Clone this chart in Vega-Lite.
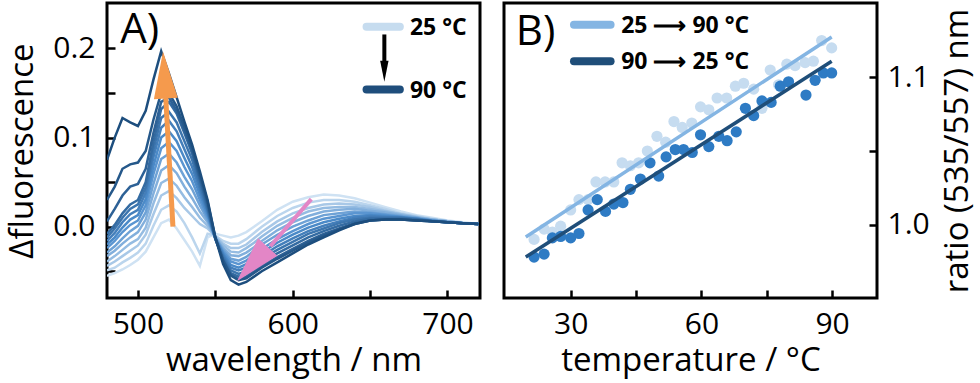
{
"$schema": "https://vega.github.io/schema/vega-lite/v6.json",
"padding": {"left": 5, "top": 1, "right": 0, "bottom": 0},
"spacing": 20,
"background": "white",
"config": {
  "font": "Open Sans",
  "view": {"stroke": "black", "strokeWidth": 3},
  "axis": {"domain": false, "grid": false, "tickColor": "black", "tickWidth": 2.5, "tickSize": -8,
           "labelFont": "Open Sans", "labelFontSize": 30, "labelColor": "black",
           "titleFont": "Open Sans", "titleFontSize": 33, "titleFontWeight": "normal", "titleColor": "black"}
},
"hconcat": [
{
  "width": 373, "height": 295,
  "layer": [
    {
      "data": {"values": [
{"t":25,"w":480,"v":-0.055},{"t":25,"w":485,"v":-0.052},{"t":25,"w":490,"v":-0.048},{"t":25,"w":495,"v":-0.043},{"t":25,"w":500,"v":-0.037},{"t":25,"w":505,"v":-0.028},{"t":25,"w":510,"v":-0.012},{"t":25,"w":515,"v":0.004},{"t":25,"w":520,"v":0.008},{"t":25,"w":525,"v":-0.002},{"t":25,"w":530,"v":-0.015},{"t":25,"w":535,"v":-0.028},{"t":25,"w":540,"v":-0.044},{"t":25,"w":545,"v":-0.012},{"t":25,"w":550,"v":-0.008},{"t":25,"w":555,"v":-0.010},{"t":25,"w":560,"v":-0.012},{"t":25,"w":565,"v":-0.010},{"t":25,"w":570,"v":-0.006},{"t":25,"w":575,"v":0.000},{"t":25,"w":580,"v":0.006},{"t":25,"w":590,"v":0.019},{"t":25,"w":600,"v":0.028},{"t":25,"w":610,"v":0.033},{"t":25,"w":620,"v":0.036},{"t":25,"w":630,"v":0.035},{"t":25,"w":640,"v":0.032},{"t":25,"w":650,"v":0.027},{"t":25,"w":660,"v":0.022},{"t":25,"w":670,"v":0.017},{"t":25,"w":680,"v":0.013},{"t":25,"w":690,"v":0.010},{"t":25,"w":700,"v":0.007},{"t":25,"w":710,"v":0.005},{"t":25,"w":720,"v":0.003},
{"t":30,"w":480,"v":-0.049},{"t":30,"w":485,"v":-0.046},{"t":30,"w":490,"v":-0.040},{"t":30,"w":495,"v":-0.035},{"t":30,"w":500,"v":-0.029},{"t":30,"w":505,"v":-0.019},{"t":30,"w":510,"v":0.001},{"t":30,"w":515,"v":0.019},{"t":30,"w":520,"v":0.024},{"t":30,"w":525,"v":0.017},{"t":30,"w":530,"v":0.004},{"t":30,"w":535,"v":-0.012},{"t":30,"w":540,"v":-0.030},{"t":30,"w":545,"v":-0.008},{"t":30,"w":550,"v":-0.010},{"t":30,"w":555,"v":-0.016},{"t":30,"w":560,"v":-0.019},{"t":30,"w":565,"v":-0.019},{"t":30,"w":570,"v":-0.014},{"t":30,"w":575,"v":-0.007},{"t":30,"w":580,"v":0.000},{"t":30,"w":590,"v":0.012},{"t":30,"w":600,"v":0.021},{"t":30,"w":610,"v":0.027},{"t":30,"w":620,"v":0.030},{"t":30,"w":630,"v":0.030},{"t":30,"w":640,"v":0.028},{"t":30,"w":650,"v":0.024},{"t":30,"w":660,"v":0.020},{"t":30,"w":670,"v":0.015},{"t":30,"w":680,"v":0.012},{"t":30,"w":690,"v":0.009},{"t":30,"w":700,"v":0.006},{"t":30,"w":710,"v":0.004},{"t":30,"w":720,"v":0.003},
{"t":35,"w":480,"v":-0.044},{"t":35,"w":485,"v":-0.039},{"t":35,"w":490,"v":-0.033},{"t":35,"w":495,"v":-0.027},{"t":35,"w":500,"v":-0.021},{"t":35,"w":505,"v":-0.009},{"t":35,"w":510,"v":0.014},{"t":35,"w":515,"v":0.035},{"t":35,"w":520,"v":0.040},{"t":35,"w":525,"v":0.032},{"t":35,"w":530,"v":0.021},{"t":35,"w":535,"v":0.012},{"t":35,"w":540,"v":0.003},{"t":35,"w":545,"v":-0.002},{"t":35,"w":550,"v":-0.011},{"t":35,"w":555,"v":-0.019},{"t":35,"w":560,"v":-0.024},{"t":35,"w":565,"v":-0.024},{"t":35,"w":570,"v":-0.020},{"t":35,"w":575,"v":-0.013},{"t":35,"w":580,"v":-0.006},{"t":35,"w":590,"v":0.006},{"t":35,"w":600,"v":0.015},{"t":35,"w":610,"v":0.021},{"t":35,"w":620,"v":0.025},{"t":35,"w":630,"v":0.026},{"t":35,"w":640,"v":0.025},{"t":35,"w":650,"v":0.022},{"t":35,"w":660,"v":0.018},{"t":35,"w":670,"v":0.014},{"t":35,"w":680,"v":0.011},{"t":35,"w":690,"v":0.008},{"t":35,"w":700,"v":0.006},{"t":35,"w":710,"v":0.004},{"t":35,"w":720,"v":0.003},
{"t":40,"w":480,"v":-0.039},{"t":40,"w":485,"v":-0.033},{"t":40,"w":490,"v":-0.026},{"t":40,"w":495,"v":-0.019},{"t":40,"w":500,"v":-0.014},{"t":40,"w":505,"v":-0.001},{"t":40,"w":510,"v":0.026},{"t":40,"w":515,"v":0.049},{"t":40,"w":520,"v":0.054},{"t":40,"w":525,"v":0.046},{"t":40,"w":530,"v":0.033},{"t":40,"w":535,"v":0.022},{"t":40,"w":540,"v":0.010},{"t":40,"w":545,"v":0.001},{"t":40,"w":550,"v":-0.011},{"t":40,"w":555,"v":-0.021},{"t":40,"w":560,"v":-0.028},{"t":40,"w":565,"v":-0.029},{"t":40,"w":570,"v":-0.024},{"t":40,"w":575,"v":-0.018},{"t":40,"w":580,"v":-0.011},{"t":40,"w":590,"v":0.001},{"t":40,"w":600,"v":0.010},{"t":40,"w":610,"v":0.017},{"t":40,"w":620,"v":0.021},{"t":40,"w":630,"v":0.022},{"t":40,"w":640,"v":0.022},{"t":40,"w":650,"v":0.020},{"t":40,"w":660,"v":0.017},{"t":40,"w":670,"v":0.014},{"t":40,"w":680,"v":0.011},{"t":40,"w":690,"v":0.008},{"t":40,"w":700,"v":0.006},{"t":40,"w":710,"v":0.004},{"t":40,"w":720,"v":0.003},
{"t":45,"w":480,"v":-0.033},{"t":45,"w":485,"v":-0.027},{"t":45,"w":490,"v":-0.019},{"t":45,"w":495,"v":-0.012},{"t":45,"w":500,"v":-0.006},{"t":45,"w":505,"v":0.008},{"t":45,"w":510,"v":0.037},{"t":45,"w":515,"v":0.063},{"t":45,"w":520,"v":0.069},{"t":45,"w":525,"v":0.060},{"t":45,"w":530,"v":0.045},{"t":45,"w":535,"v":0.032},{"t":45,"w":540,"v":0.017},{"t":45,"w":545,"v":0.005},{"t":45,"w":550,"v":-0.012},{"t":45,"w":555,"v":-0.024},{"t":45,"w":560,"v":-0.032},{"t":45,"w":565,"v":-0.033},{"t":45,"w":570,"v":-0.029},{"t":45,"w":575,"v":-0.023},{"t":45,"w":580,"v":-0.016},{"t":45,"w":590,"v":-0.004},{"t":45,"w":600,"v":0.005},{"t":45,"w":610,"v":0.012},{"t":45,"w":620,"v":0.017},{"t":45,"w":630,"v":0.019},{"t":45,"w":640,"v":0.020},{"t":45,"w":650,"v":0.018},{"t":45,"w":660,"v":0.016},{"t":45,"w":670,"v":0.013},{"t":45,"w":680,"v":0.010},{"t":45,"w":690,"v":0.008},{"t":45,"w":700,"v":0.006},{"t":45,"w":710,"v":0.004},{"t":45,"w":720,"v":0.003},
{"t":50,"w":480,"v":-0.029},{"t":50,"w":485,"v":-0.022},{"t":50,"w":490,"v":-0.013},{"t":50,"w":495,"v":-0.005},{"t":50,"w":500,"v":0.001},{"t":50,"w":505,"v":0.016},{"t":50,"w":510,"v":0.048},{"t":50,"w":515,"v":0.076},{"t":50,"w":520,"v":0.082},{"t":50,"w":525,"v":0.072},{"t":50,"w":530,"v":0.056},{"t":50,"w":535,"v":0.042},{"t":50,"w":540,"v":0.024},{"t":50,"w":545,"v":0.008},{"t":50,"w":550,"v":-0.012},{"t":50,"w":555,"v":-0.026},{"t":50,"w":560,"v":-0.036},{"t":50,"w":565,"v":-0.038},{"t":50,"w":570,"v":-0.034},{"t":50,"w":575,"v":-0.027},{"t":50,"w":580,"v":-0.020},{"t":50,"w":590,"v":-0.009},{"t":50,"w":600,"v":0.000},{"t":50,"w":610,"v":0.007},{"t":50,"w":620,"v":0.013},{"t":50,"w":630,"v":0.015},{"t":50,"w":640,"v":0.017},{"t":50,"w":650,"v":0.016},{"t":50,"w":660,"v":0.014},{"t":50,"w":670,"v":0.012},{"t":50,"w":680,"v":0.010},{"t":50,"w":690,"v":0.007},{"t":50,"w":700,"v":0.005},{"t":50,"w":710,"v":0.004},{"t":50,"w":720,"v":0.003},
{"t":55,"w":480,"v":-0.024},{"t":55,"w":485,"v":-0.016},{"t":55,"w":490,"v":-0.006},{"t":55,"w":495,"v":0.002},{"t":55,"w":500,"v":0.007},{"t":55,"w":505,"v":0.024},{"t":55,"w":510,"v":0.059},{"t":55,"w":515,"v":0.088},{"t":55,"w":520,"v":0.095},{"t":55,"w":525,"v":0.085},{"t":55,"w":530,"v":0.067},{"t":55,"w":535,"v":0.051},{"t":55,"w":540,"v":0.030},{"t":55,"w":545,"v":0.011},{"t":55,"w":550,"v":-0.013},{"t":55,"w":555,"v":-0.028},{"t":55,"w":560,"v":-0.039},{"t":55,"w":565,"v":-0.042},{"t":55,"w":570,"v":-0.038},{"t":55,"w":575,"v":-0.032},{"t":55,"w":580,"v":-0.025},{"t":55,"w":590,"v":-0.014},{"t":55,"w":600,"v":-0.005},{"t":55,"w":610,"v":0.003},{"t":55,"w":620,"v":0.009},{"t":55,"w":630,"v":0.012},{"t":55,"w":640,"v":0.015},{"t":55,"w":650,"v":0.015},{"t":55,"w":660,"v":0.013},{"t":55,"w":670,"v":0.011},{"t":55,"w":680,"v":0.009},{"t":55,"w":690,"v":0.007},{"t":55,"w":700,"v":0.005},{"t":55,"w":710,"v":0.004},{"t":55,"w":720,"v":0.003},
{"t":60,"w":480,"v":-0.020},{"t":60,"w":485,"v":-0.012},{"t":60,"w":490,"v":-0.001},{"t":60,"w":495,"v":0.008},{"t":60,"w":500,"v":0.013},{"t":60,"w":505,"v":0.031},{"t":60,"w":510,"v":0.068},{"t":60,"w":515,"v":0.100},{"t":60,"w":520,"v":0.107},{"t":60,"w":525,"v":0.096},{"t":60,"w":530,"v":0.077},{"t":60,"w":535,"v":0.059},{"t":60,"w":540,"v":0.036},{"t":60,"w":545,"v":0.014},{"t":60,"w":550,"v":-0.013},{"t":60,"w":555,"v":-0.030},{"t":60,"w":560,"v":-0.043},{"t":60,"w":565,"v":-0.046},{"t":60,"w":570,"v":-0.042},{"t":60,"w":575,"v":-0.036},{"t":60,"w":580,"v":-0.029},{"t":60,"w":590,"v":-0.018},{"t":60,"w":600,"v":-0.009},{"t":60,"w":610,"v":-0.001},{"t":60,"w":620,"v":0.005},{"t":60,"w":630,"v":0.009},{"t":60,"w":640,"v":0.012},{"t":60,"w":650,"v":0.013},{"t":60,"w":660,"v":0.012},{"t":60,"w":670,"v":0.011},{"t":60,"w":680,"v":0.009},{"t":60,"w":690,"v":0.007},{"t":60,"w":700,"v":0.005},{"t":60,"w":710,"v":0.004},{"t":60,"w":720,"v":0.003},
{"t":65,"w":480,"v":-0.016},{"t":65,"w":485,"v":-0.007},{"t":65,"w":490,"v":0.005},{"t":65,"w":495,"v":0.014},{"t":65,"w":500,"v":0.019},{"t":65,"w":505,"v":0.038},{"t":65,"w":510,"v":0.078},{"t":65,"w":515,"v":0.111},{"t":65,"w":520,"v":0.119},{"t":65,"w":525,"v":0.107},{"t":65,"w":530,"v":0.087},{"t":65,"w":535,"v":0.067},{"t":65,"w":540,"v":0.042},{"t":65,"w":545,"v":0.017},{"t":65,"w":550,"v":-0.013},{"t":65,"w":555,"v":-0.032},{"t":65,"w":560,"v":-0.046},{"t":65,"w":565,"v":-0.049},{"t":65,"w":570,"v":-0.046},{"t":65,"w":575,"v":-0.040},{"t":65,"w":580,"v":-0.033},{"t":65,"w":590,"v":-0.022},{"t":65,"w":600,"v":-0.013},{"t":65,"w":610,"v":-0.005},{"t":65,"w":620,"v":0.001},{"t":65,"w":630,"v":0.006},{"t":65,"w":640,"v":0.010},{"t":65,"w":650,"v":0.012},{"t":65,"w":660,"v":0.011},{"t":65,"w":670,"v":0.010},{"t":65,"w":680,"v":0.009},{"t":65,"w":690,"v":0.006},{"t":65,"w":700,"v":0.005},{"t":65,"w":710,"v":0.004},{"t":65,"w":720,"v":0.003},
{"t":70,"w":480,"v":-0.012},{"t":70,"w":485,"v":-0.002},{"t":70,"w":490,"v":0.010},{"t":70,"w":495,"v":0.020},{"t":70,"w":500,"v":0.025},{"t":70,"w":505,"v":0.044},{"t":70,"w":510,"v":0.086},{"t":70,"w":515,"v":0.122},{"t":70,"w":520,"v":0.129},{"t":70,"w":525,"v":0.117},{"t":70,"w":530,"v":0.096},{"t":70,"w":535,"v":0.075},{"t":70,"w":540,"v":0.047},{"t":70,"w":545,"v":0.019},{"t":70,"w":550,"v":-0.014},{"t":70,"w":555,"v":-0.034},{"t":70,"w":560,"v":-0.049},{"t":70,"w":565,"v":-0.053},{"t":70,"w":570,"v":-0.050},{"t":70,"w":575,"v":-0.043},{"t":70,"w":580,"v":-0.036},{"t":70,"w":590,"v":-0.026},{"t":70,"w":600,"v":-0.017},{"t":70,"w":610,"v":-0.008},{"t":70,"w":620,"v":-0.002},{"t":70,"w":630,"v":0.004},{"t":70,"w":640,"v":0.008},{"t":70,"w":650,"v":0.010},{"t":70,"w":660,"v":0.010},{"t":70,"w":670,"v":0.010},{"t":70,"w":680,"v":0.008},{"t":70,"w":690,"v":0.006},{"t":70,"w":700,"v":0.005},{"t":70,"w":710,"v":0.004},{"t":70,"w":720,"v":0.003},
{"t":75,"w":480,"v":-0.008},{"t":75,"w":485,"v":0.002},{"t":75,"w":490,"v":0.015},{"t":75,"w":495,"v":0.025},{"t":75,"w":500,"v":0.030},{"t":75,"w":505,"v":0.050},{"t":75,"w":510,"v":0.095},{"t":75,"w":515,"v":0.132},{"t":75,"w":520,"v":0.140},{"t":75,"w":525,"v":0.127},{"t":75,"w":530,"v":0.105},{"t":75,"w":535,"v":0.082},{"t":75,"w":540,"v":0.052},{"t":75,"w":545,"v":0.022},{"t":75,"w":550,"v":-0.014},{"t":75,"w":555,"v":-0.036},{"t":75,"w":560,"v":-0.052},{"t":75,"w":565,"v":-0.056},{"t":75,"w":570,"v":-0.053},{"t":75,"w":575,"v":-0.047},{"t":75,"w":580,"v":-0.040},{"t":75,"w":590,"v":-0.030},{"t":75,"w":600,"v":-0.021},{"t":75,"w":610,"v":-0.012},{"t":75,"w":620,"v":-0.005},{"t":75,"w":630,"v":0.001},{"t":75,"w":640,"v":0.006},{"t":75,"w":650,"v":0.009},{"t":75,"w":660,"v":0.009},{"t":75,"w":670,"v":0.009},{"t":75,"w":680,"v":0.008},{"t":75,"w":690,"v":0.006},{"t":75,"w":700,"v":0.005},{"t":75,"w":710,"v":0.004},{"t":75,"w":720,"v":0.003},
{"t":80,"w":480,"v":0.006},{"t":80,"w":485,"v":0.020},{"t":80,"w":490,"v":0.035},{"t":80,"w":495,"v":0.045},{"t":80,"w":500,"v":0.048},{"t":80,"w":505,"v":0.065},{"t":80,"w":510,"v":0.105},{"t":80,"w":515,"v":0.140},{"t":80,"w":520,"v":0.145},{"t":80,"w":525,"v":0.130},{"t":80,"w":530,"v":0.108},{"t":80,"w":535,"v":0.085},{"t":80,"w":540,"v":0.055},{"t":80,"w":545,"v":0.025},{"t":80,"w":550,"v":-0.013},{"t":80,"w":555,"v":-0.038},{"t":80,"w":560,"v":-0.054},{"t":80,"w":565,"v":-0.059},{"t":80,"w":570,"v":-0.056},{"t":80,"w":575,"v":-0.050},{"t":80,"w":580,"v":-0.044},{"t":80,"w":590,"v":-0.034},{"t":80,"w":600,"v":-0.025},{"t":80,"w":610,"v":-0.016},{"t":80,"w":620,"v":-0.008},{"t":80,"w":630,"v":-0.002},{"t":80,"w":640,"v":0.004},{"t":80,"w":650,"v":0.007},{"t":80,"w":660,"v":0.008},{"t":80,"w":670,"v":0.008},{"t":80,"w":680,"v":0.007},{"t":80,"w":690,"v":0.006},{"t":80,"w":700,"v":0.005},{"t":80,"w":710,"v":0.004},{"t":80,"w":720,"v":0.003},
{"t":85,"w":480,"v":0.030},{"t":85,"w":485,"v":0.045},{"t":85,"w":490,"v":0.065},{"t":85,"w":495,"v":0.070},{"t":85,"w":500,"v":0.072},{"t":85,"w":505,"v":0.085},{"t":85,"w":510,"v":0.120},{"t":85,"w":515,"v":0.150},{"t":85,"w":520,"v":0.150},{"t":85,"w":525,"v":0.135},{"t":85,"w":530,"v":0.112},{"t":85,"w":535,"v":0.088},{"t":85,"w":540,"v":0.058},{"t":85,"w":545,"v":0.028},{"t":85,"w":550,"v":-0.012},{"t":85,"w":555,"v":-0.038},{"t":85,"w":560,"v":-0.055},{"t":85,"w":565,"v":-0.060},{"t":85,"w":570,"v":-0.058},{"t":85,"w":575,"v":-0.052},{"t":85,"w":580,"v":-0.046},{"t":85,"w":590,"v":-0.036},{"t":85,"w":600,"v":-0.027},{"t":85,"w":610,"v":-0.018},{"t":85,"w":620,"v":-0.010},{"t":85,"w":630,"v":-0.003},{"t":85,"w":640,"v":0.003},{"t":85,"w":650,"v":0.007},{"t":85,"w":660,"v":0.008},{"t":85,"w":670,"v":0.008},{"t":85,"w":680,"v":0.007},{"t":85,"w":690,"v":0.006},{"t":85,"w":700,"v":0.005},{"t":85,"w":710,"v":0.004},{"t":85,"w":720,"v":0.003},
{"t":90,"w":480,"v":0.075},{"t":90,"w":485,"v":0.100},{"t":90,"w":490,"v":0.122},{"t":90,"w":495,"v":0.117},{"t":90,"w":500,"v":0.113},{"t":90,"w":505,"v":0.130},{"t":90,"w":510,"v":0.165},{"t":90,"w":515,"v":0.197},{"t":90,"w":520,"v":0.172},{"t":90,"w":525,"v":0.145},{"t":90,"w":530,"v":0.118},{"t":90,"w":535,"v":0.092},{"t":90,"w":540,"v":0.062},{"t":90,"w":545,"v":0.030},{"t":90,"w":550,"v":-0.012},{"t":90,"w":555,"v":-0.042},{"t":90,"w":560,"v":-0.060},{"t":90,"w":565,"v":-0.065},{"t":90,"w":570,"v":-0.062},{"t":90,"w":575,"v":-0.056},{"t":90,"w":580,"v":-0.050},{"t":90,"w":590,"v":-0.040},{"t":90,"w":600,"v":-0.030},{"t":90,"w":610,"v":-0.020},{"t":90,"w":620,"v":-0.012},{"t":90,"w":630,"v":-0.004},{"t":90,"w":640,"v":0.003},{"t":90,"w":650,"v":0.007},{"t":90,"w":660,"v":0.008},{"t":90,"w":670,"v":0.008},{"t":90,"w":680,"v":0.007},{"t":90,"w":690,"v":0.006},{"t":90,"w":700,"v":0.005},{"t":90,"w":710,"v":0.004},{"t":90,"w":720,"v":0.003}
      ]},
      "mark": {"type": "line", "strokeWidth": 2.5, "clip": true},
      "encoding": {
        "x": {"field": "w", "type": "quantitative", "scale": {"domain": [480, 721], "nice": false, "zero": false},
              "axis": {"title": "wavelength / nm", "values": [500, 550, 600, 650, 700],
                       "labelExpr": "datum.value % 100 == 0 ? datum.label : ''", "labelPadding": 19, "titlePadding": 5}},
        "y": {"field": "v", "type": "quantitative", "scale": {"domain": [-0.08, 0.251], "nice": false, "zero": false},
              "axis": {"title": "Δfluorescence", "values": [-0.05, 0, 0.05, 0.1, 0.15, 0.2],
                       "labelExpr": "abs(datum.value*10 - round(datum.value*10)) < 0.001 ? format(datum.value, '.1f') : ''",
                       "labelPadding": 20, "titlePadding": 13}},
        "color": {"field": "t", "type": "quantitative", "legend": null,
                  "scale": {"domain": [25, 57.5, 90], "range": ["#cfe2f3", "#4f8fce", "#1d4e7e"]}},
        "detail": {"field": "t"}
      }
    },
    {"mark": {"type": "rule", "color": "black", "strokeWidth": 2.5}, "encoding": {"y": {"datum": 0}}},
    {
      "data": {"values": [{"x1": 522.6, "y1": 0.0, "x2": 517.8, "y2": 0.15}]},
      "mark": {"type": "rule", "color": "#f59a4d", "strokeWidth": 5},
      "encoding": {"x": {"field": "x1", "type": "quantitative"}, "y": {"field": "y1", "type": "quantitative"},
                   "x2": {"field": "x2"}, "y2": {"field": "y2"}}
    },
    {
      "data": {"values": [{"x": 517.1, "y": 0.1702}]},
      "mark": {"type": "point", "shape": "M-0.51,1L0,-1L0.51,1Z", "filled": true, "opacity": 1, "color": "#f59a4d", "size": 2209, "angle": -3.5, "strokeWidth": 0},
      "encoding": {"x": {"field": "x", "type": "quantitative"}, "y": {"field": "y", "type": "quantitative"}}
    },
    {
      "data": {"values": [{"x1": 612, "y1": 0.031, "x2": 585.5, "y2": -0.022}]},
      "mark": {"type": "rule", "color": "#e386c6", "strokeWidth": 4},
      "encoding": {"x": {"field": "x1", "type": "quantitative"}, "y": {"field": "y1", "type": "quantitative"},
                   "x2": {"field": "x2"}, "y2": {"field": "y2"}}
    },
    {
      "data": {"values": [{"x": 573.9, "y": -0.042}]},
      "mark": {"type": "point", "shape": "M-0.565,1L0,-1L0.565,1Z", "filled": true, "opacity": 1, "color": "#e386c6", "size": 2116, "angle": 222, "strokeWidth": 0},
      "encoding": {"x": {"field": "x", "type": "quantitative"}, "y": {"field": "y", "type": "quantitative"}}
    },
    {
      "data": {"values": [{"x1": 647.7, "x2": 669.2, "y": 0.2244, "c": "light"}, {"x1": 647.7, "x2": 669.2, "y": 0.1539, "c": "dark"}]},
      "mark": {"type": "rule", "strokeWidth": 8, "strokeCap": "round"},
      "encoding": {"x": {"field": "x1", "type": "quantitative"}, "x2": {"field": "x2"}, "y": {"field": "y", "type": "quantitative"},
                   "color": {"field": "c", "type": "nominal", "legend": null, "scale": {"domain": ["light", "dark"], "range": ["#c6dcef", "#1f4e7c"]}}}
    },
    {
      "data": {"values": [{"x": 675.7, "y": 0.2244, "label": "25 °C"}, {"x": 675.7, "y": 0.1539, "label": "90 °C"}]},
      "mark": {"type": "text", "align": "left", "baseline": "middle", "fontSize": 23, "fontWeight": "bold", "color": "black", "dy": 1},
      "encoding": {"x": {"field": "x", "type": "quantitative"}, "y": {"field": "y", "type": "quantitative"}, "text": {"field": "label"}}
    },
    {
      "data": {"values": [{"x": 659.2, "y1": 0.2157, "y2": 0.178}]},
      "mark": {"type": "rule", "color": "black", "strokeWidth": 4},
      "encoding": {"x": {"field": "x", "type": "quantitative"}, "y": {"field": "y1", "type": "quantitative"}, "y2": {"field": "y2"}}
    },
    {
      "data": {"values": [{"x": 659.2, "y": 0.1745}]},
      "mark": {"type": "point", "shape": "M-0.4,1L0,-1L0.4,1Z", "filled": true, "opacity": 1, "color": "black", "size": 440, "angle": 180, "strokeWidth": 0},
      "encoding": {"x": {"field": "x", "type": "quantitative"}, "y": {"field": "y", "type": "quantitative"}}
    },
    {
      "data": {"values": [{"x": 488.6, "y": 0.2204, "label": "A)"}]},
      "mark": {"type": "text", "align": "left", "baseline": "middle", "fontSize": 42, "color": "black"},
      "encoding": {"x": {"field": "x", "type": "quantitative"}, "y": {"field": "y", "type": "quantitative"}, "text": {"field": "label"}}
    }
  ]
},
{
  "width": 373, "height": 295,
  "layer": [
    {
      "data": {"values": [
{"T":21.6,"r":0.990},{"T":23.9,"r":0.997},{"T":25.8,"r":0.995},{"T":27.7,"r":0.999},{"T":30.0,"r":1.010},{"T":31.9,"r":1.017},{"T":34.0,"r":1.017},{"T":35.8,"r":1.029},{"T":37.9,"r":1.029},{"T":39.9,"r":1.029},{"T":41.8,"r":1.042},{"T":43.7,"r":1.040},{"T":45.6,"r":1.042},{"T":47.6,"r":1.050},{"T":49.8,"r":1.060},{"T":51.8,"r":1.056},{"T":53.7,"r":1.070},{"T":55.6,"r":1.066},{"T":57.8,"r":1.069},{"T":59.8,"r":1.080},{"T":61.7,"r":1.078},{"T":63.6,"r":1.086},{"T":65.8,"r":1.086},{"T":67.8,"r":1.094},{"T":69.7,"r":1.096},{"T":72.0,"r":1.092},{"T":73.9,"r":1.079},{"T":75.8,"r":1.105},{"T":77.7,"r":1.095},{"T":79.6,"r":1.109},{"T":81.5,"r":1.108},{"T":83.8,"r":1.110},{"T":85.7,"r":1.111},{"T":87.6,"r":1.125},{"T":89.9,"r":1.120}
      ]},
      "mark": {"type": "circle", "size": 125, "opacity": 1, "color": "#c6dcf0"},
      "encoding": {
        "x": {"field": "T", "type": "quantitative", "scale": {"domain": [14.7, 100.3], "nice": false, "zero": false},
              "axis": {"title": "temperature / °C", "values": [30, 45, 60, 75, 90],
                       "labelExpr": "datum.value % 30 == 0 ? datum.label : ''", "labelPadding": 19, "titlePadding": 5}},
        "y": {"field": "r", "type": "quantitative", "scale": {"domain": [0.9502, 1.1505], "nice": false, "zero": false},
              "axis": {"orient": "right", "title": "ratio (535/557) nm", "values": [1.0, 1.05, 1.1],
                       "labelExpr": "datum.value == 1.05 ? '' : format(datum.value, '.1f')",
                       "labelPadding": 18, "titlePadding": 12, "titleAngle": -90, "titleBaseline": "top"}}
      }
    },
    {
      "data": {"values": [
{"T":21.6,"r":0.978},{"T":23.9,"r":0.980},{"T":25.8,"r":0.991},{"T":27.7,"r":0.992},{"T":30.0,"r":0.991},{"T":31.9,"r":0.994},{"T":34.0,"r":1.010},{"T":36.1,"r":1.017},{"T":38.0,"r":1.009},{"T":39.9,"r":1.014},{"T":42.0,"r":1.015},{"T":43.7,"r":1.024},{"T":46.0,"r":1.031},{"T":48.2,"r":1.042},{"T":50.2,"r":1.033},{"T":51.9,"r":1.046},{"T":54.0,"r":1.051},{"T":55.9,"r":1.051},{"T":57.9,"r":1.049},{"T":59.8,"r":1.061},{"T":61.7,"r":1.053},{"T":64.0,"r":1.060},{"T":65.9,"r":1.057},{"T":68.0,"r":1.063},{"T":70.1,"r":1.079},{"T":72.0,"r":1.074},{"T":73.9,"r":1.084},{"T":76.0,"r":1.083},{"T":78.1,"r":1.094},{"T":80.0,"r":1.097},{"T":84.0,"r":1.088},{"T":86.1,"r":1.098},{"T":88.0,"r":1.103},{"T":89.9,"r":1.103}
      ]},
      "mark": {"type": "circle", "size": 125, "opacity": 1, "color": "#2e7bc4"},
      "encoding": {"x": {"field": "T", "type": "quantitative"}, "y": {"field": "r", "type": "quantitative"}}
    },
    {
      "data": {"values": [{"T": 19.7, "r": 0.9916, "s": "heat"}, {"T": 89.9, "r": 1.1274, "s": "heat"}, {"T": 19.7, "r": 0.978, "s": "cool"}, {"T": 89.9, "r": 1.1109, "s": "cool"}]},
      "mark": {"type": "line", "strokeWidth": 3.5},
      "encoding": {"x": {"field": "T", "type": "quantitative"}, "y": {"field": "r", "type": "quantitative"},
                   "color": {"field": "s", "type": "nominal", "legend": null, "scale": {"domain": ["heat", "cool"], "range": ["#84b5e3", "#1f4e79"]}}}
    },
    {
      "data": {"values": [{"x1": 30.76, "x2": 39.16, "y": 1.1358, "s": "heat"}, {"x1": 30.76, "x2": 39.16, "y": 1.1109, "s": "cool"}]},
      "mark": {"type": "rule", "strokeWidth": 8, "strokeCap": "round"},
      "encoding": {"x": {"field": "x1", "type": "quantitative"}, "x2": {"field": "x2"}, "y": {"field": "y", "type": "quantitative"},
                   "color": {"field": "s", "type": "nominal", "legend": null}}
    },
    {
      "data": {"values": [{"x": 41.6, "y": 1.1358, "label": "25 ⟶ 90 °C"}, {"x": 41.6, "y": 1.1109, "label": "90 ⟶ 25 °C"}]},
      "mark": {"type": "text", "align": "left", "baseline": "middle", "fontSize": 23, "fontWeight": "bold", "color": "black", "dy": 1},
      "encoding": {"x": {"field": "x", "type": "quantitative"}, "y": {"field": "y", "type": "quantitative"}, "text": {"field": "label"}}
    },
    {
      "data": {"values": [{"x": 17.4, "y": 1.131, "label": "B)"}]},
      "mark": {"type": "text", "align": "left", "baseline": "middle", "fontSize": 42, "color": "black"},
      "encoding": {"x": {"field": "x", "type": "quantitative"}, "y": {"field": "y", "type": "quantitative"}, "text": {"field": "label"}}
    }
  ]
}
]
}
